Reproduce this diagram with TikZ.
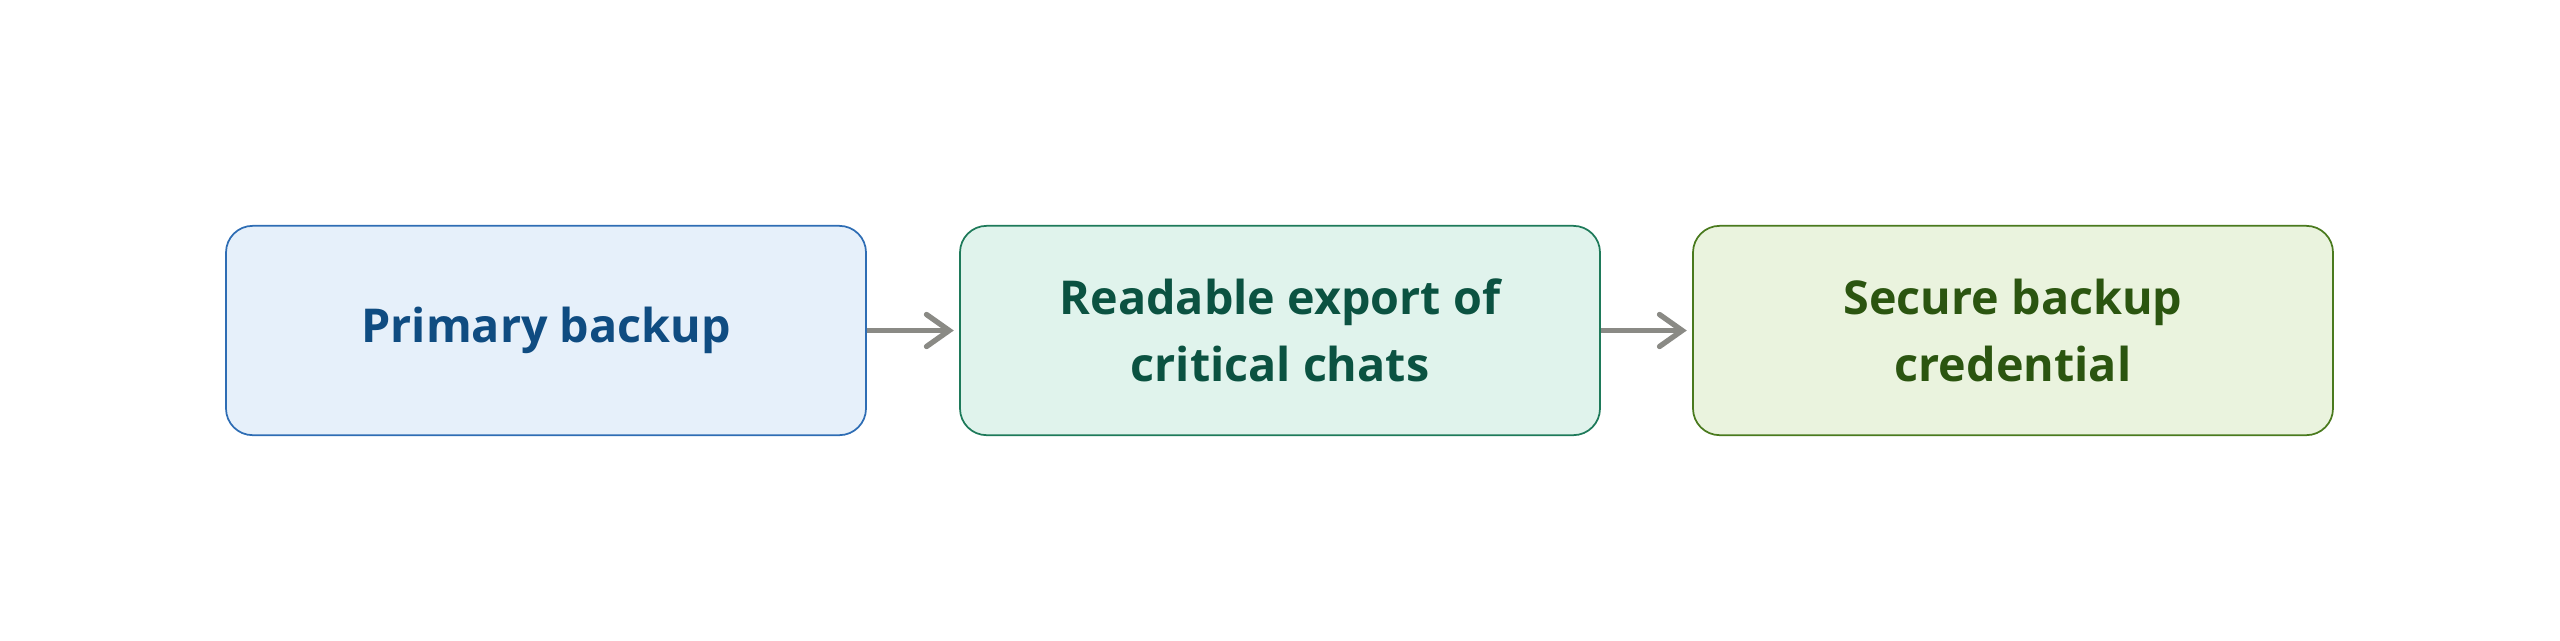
\documentclass[tikz,border=0pt]{standalone}
\usepackage{fontspec}
\setmainfont{Open Sans}
\usetikzlibrary{arrows.meta}
\definecolor{bAfill}{HTML}{E6F0FA}
\definecolor{bAdraw}{HTML}{2E6DB4}
\definecolor{bAtext}{HTML}{0F4C81}
\definecolor{bBfill}{HTML}{E0F3EC}
\definecolor{bBdraw}{HTML}{1E7A5A}
\definecolor{bBtext}{HTML}{0B5241}
\definecolor{bCfill}{HTML}{EAF3DE}
\definecolor{bCdraw}{HTML}{4A7A1E}
\definecolor{bCtext}{HTML}{2B5510}
\definecolor{arrgray}{HTML}{8A8A85}
\tikzset{
  px/.style={x=0.75pt,y=-0.75pt},
  stagebox/.style={rectangle, rounded corners=20pt, line width=1.3pt,
    minimum width=480pt, minimum height=157pt, inner sep=0pt,
    align=center, font=\bfseries\fontsize{35}{50}\selectfont},
  twoline/.style={execute at begin node={\vspace*{9pt}}},
  flowarrow/.style={draw=arrgray, line width=4pt,
    -{Straight Barb[length=17pt,width=24pt,line cap=round]}, shorten >=4pt},
}
\begin{document}
\begin{tikzpicture}[px]
\useasboundingbox (0,0) rectangle (2560,640);
\node[stagebox, fill=bAfill, draw=bAdraw, text=bAtext] (a) at (546,330.5) {Primary backup};
\node[stagebox, twoline, fill=bBfill, draw=bBdraw, text=bBtext] (b) at (1280,330.5) {Readable export of\\critical chats};
\node[stagebox, twoline, fill=bCfill, draw=bCdraw, text=bCtext] (c) at (2013,330.5) {Secure backup\\credential};
\draw[flowarrow] (a.east) -- (b.west);
\draw[flowarrow] (b.east) -- (c.west);
\end{tikzpicture}
\end{document}
